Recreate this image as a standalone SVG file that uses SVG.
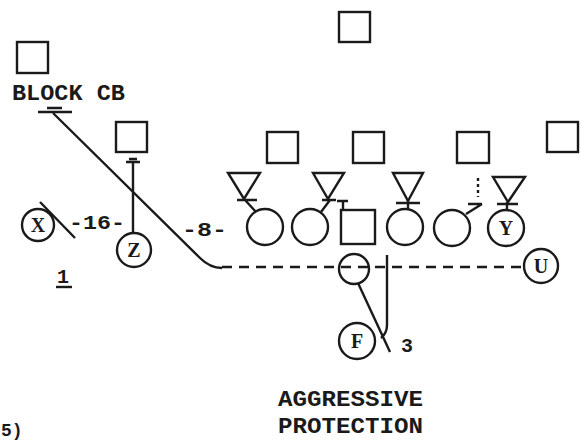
<svg xmlns="http://www.w3.org/2000/svg" width="581" height="441" viewBox="0 0 581 441">
<style>
.s{fill:none;stroke:#1a1a1a;stroke-width:2.4}
.t{font-family:"Liberation Mono","Courier New",monospace;font-weight:bold;fill:#1a1a1a}
.l{font-family:"Liberation Serif","Times New Roman",serif;font-weight:bold;fill:#1a1a1a;font-size:20px;text-anchor:middle}
.n{font-family:"Liberation Mono","Courier New",monospace;font-weight:bold;fill:#1a1a1a}
</style>
<rect width="581" height="441" fill="#ffffff"/>
<g id="connectors" class="s">
<path d="M38,112 H72 M47,108 H62"/>
<path d="M53,113 L200,258 Q210,268 222,268"/>
<path d="M126,162 H140 M129,159 H137 M133,162 V233"/>
<path d="M40,202 L75,238"/>
<path d="M222,267 H522" stroke-dasharray="10 7"/>
<path d="M387,255 V325 Q387,333 381,338"/>
<path d="M358,283 L390,352"/>
<path d="M237,200 H257 M245,200 L256,212"/>
<path d="M322,200 H336 M330,200 L321,212"/>
<path d="M337,201 H348 M343,201 V210"/>
<path d="M396,203 H420 M408,200 V208"/>
<path d="M468,204 H482 M482,204 L466,214"/>
<path d="M478,178 V197" stroke-dasharray="3 3"/>
<path d="M497,204 H518 M507,202 V210"/>
</g>
<g id="topsq"><rect class="s" x="339" y="12" width="31" height="30"/></g>
<g id="blockcb"><rect class="s" x="17" y="42" width="31" height="31"/><text class="t" x="12" y="100" font-size="22" textLength="113" lengthAdjust="spacingAndGlyphs">BLOCK CB</text></g>
<g id="sq2"><rect class="s" x="116" y="122" width="31" height="30"/></g>
<g id="sq3"><rect class="s" x="267" y="132" width="31" height="31"/></g>
<g id="sq4"><rect class="s" x="353" y="132" width="31" height="31"/></g>
<g id="sq5"><rect class="s" x="457" y="132" width="32" height="31"/></g>
<g id="sq6"><rect class="s" x="547" y="122" width="31" height="30"/></g>
<g id="tri1"><path class="s" d="M228,173 H260 L244,199 Z"/></g>
<g id="tri2"><path class="s" d="M313,173 H344 L328,199 Z"/></g>
<g id="tri3"><path class="s" d="M393,173 H423 L408,201 Z"/></g>
<g id="tri4"><path class="s" d="M493,177 H525 L508,202 Z"/></g>
<g id="c1"><circle class="s" cx="265" cy="227" r="18"/></g>
<g id="c2"><circle class="s" cx="310" cy="227" r="18"/></g>
<g id="center"><rect class="s" x="341" y="210" width="34" height="34"/></g>
<g id="c3"><circle class="s" cx="405" cy="227" r="18"/></g>
<g id="c4"><circle class="s" cx="452" cy="228" r="18"/></g>
<g id="Y"><circle class="s" cx="506" cy="228" r="18"/><text class="l" x="506" y="235">Y</text></g>
<g id="X"><circle class="s" cx="38" cy="225" r="16"/><text class="l" x="38" y="232">X</text></g>
<g id="Z"><circle class="s" cx="134" cy="250" r="17"/><text class="l" x="134" y="257">Z</text></g>
<g id="U"><circle class="s" cx="541" cy="266" r="17"/><text class="l" x="541" y="273">U</text></g>
<g id="qb"><circle class="s" cx="354" cy="269" r="15"/></g>
<g id="F"><circle class="s" cx="357" cy="341" r="18"/><text class="l" x="357" y="348">F</text></g>
<g id="labels">
<text class="n" x="69" y="229" font-size="20" textLength="56" lengthAdjust="spacingAndGlyphs">-16-</text>
<text class="n" x="182" y="236" font-size="20" textLength="45" lengthAdjust="spacingAndGlyphs">-8-</text>
<text class="n" x="57" y="283" font-size="20">1</text>
<path class="s" d="M56,287 H72"/>
<text class="n" x="401" y="352" font-size="20">3</text>
<text class="t" x="278" y="406" font-size="22" textLength="145" lengthAdjust="spacingAndGlyphs">AGGRESSIVE</text>
<text class="t" x="278" y="433" font-size="22" textLength="145" lengthAdjust="spacingAndGlyphs">PROTECTION</text>
<text class="n" x="1" y="436" font-size="18">5)</text>
</g>
</svg>
